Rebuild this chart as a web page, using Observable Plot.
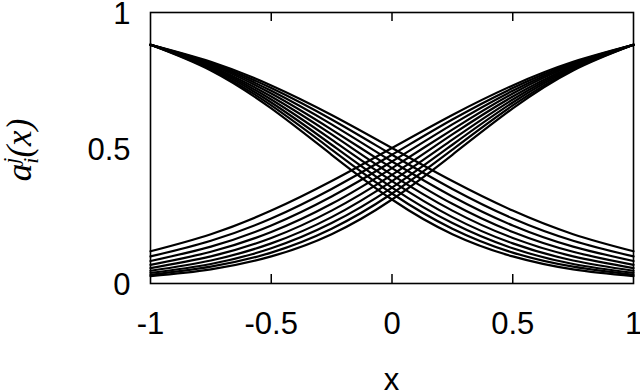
<!DOCTYPE html>
<html>
<head>
<meta charset="utf-8">
<script src="https://cdn.jsdelivr.net/npm/d3@7"></script>
<script src="https://cdn.jsdelivr.net/npm/@observablehq/plot@0.6"></script>
<style>
  html, body { margin: 0; padding: 0; background: #fff; }
  svg { display: block; }
</style>
</head>
<body>
<div id="chart"></div>
<script>
// sample x positions
const xs = [-1, -0.75, -0.5, -0.25, 0, 0.25, 0.5, 0.75, 1];
// decreasing family (values at xs)
const dec1 = [0.881, 0.818, 0.731, 0.622, 0.500, 0.378, 0.269, 0.182, 0.119];
const dec2 = [0.881, 0.814, 0.721, 0.605, 0.475, 0.349, 0.240, 0.158, 0.100];
const dec3 = [0.881, 0.810, 0.711, 0.587, 0.450, 0.321, 0.214, 0.136, 0.083];
const dec4 = [0.881, 0.806, 0.701, 0.568, 0.426, 0.294, 0.190, 0.117, 0.069];
const dec5 = [0.881, 0.802, 0.690, 0.550, 0.401, 0.269, 0.168, 0.100, 0.057];
const dec6 = [0.881, 0.798, 0.679, 0.531, 0.378, 0.245, 0.148, 0.085, 0.047];
const dec7 = [0.881, 0.794, 0.668, 0.512, 0.354, 0.223, 0.130, 0.072, 0.039];
const dec8 = [0.881, 0.790, 0.657, 0.494, 0.332, 0.202, 0.114, 0.062, 0.032];
const dec9 = [0.881, 0.786, 0.646, 0.475, 0.310, 0.182, 0.100, 0.052, 0.027];
const decFamily = [dec1, dec2, dec3, dec4, dec5, dec6, dec7, dec8, dec9];
const xTicks = [-1, -0.5, 0, 0.5, 1];
const yTicks = [0, 0.5, 1];
const innerTicks = [-0.5, 0, 0.5];

// build rows: decreasing curves, and the increasing mirror family
const rows = [];
decFamily.forEach((ys, i) => {
  xs.forEach((x, k) => rows.push({series: "d" + i, x, y: ys[k]}));
  xs.forEach((x, k) => rows.push({series: "u" + i, x: -x, y: ys[k]}));
});

const W = 640, H = 391, mL = 150, mR = 7, mT = 12, mB = 108;
const innerH = H - mT - mB;

const chart = Plot.plot({
  width: W,
  height: H,
  marginLeft: mL,
  marginRight: mR,
  marginTop: mT,
  marginBottom: mB,
  style: {fontFamily: "'Liberation Sans', Arial, sans-serif", fontSize: "31px", color: "#000", background: "#fff"},
  x: {domain: [-1, 1]},
  y: {domain: [0, 1]},
  marks: [
    Plot.line(rows, {x: "x", y: "y", z: "series", curve: "natural", stroke: "#000", strokeWidth: 2.2}),
    Plot.tickX(innerTicks, {x: d => d, insetBottom: innerH - 9, stroke: "#000", strokeWidth: 1.5}),
    Plot.tickX(innerTicks, {x: d => d, insetTop: innerH - 9, stroke: "#000", strokeWidth: 1.5}),
    Plot.frame({stroke: "#000", strokeWidth: 1.6}),
    Plot.axisX(xTicks, {tickSize: 0, tickPadding: 28, tickFormat: d => String(d), fontSize: 31, label: null}),
    Plot.axisY(yTicks, {tickSize: 0, tickPadding: 20, dy: 2, tickFormat: d => String(d), fontSize: 31, label: null})
  ]
});

document.getElementById("chart").appendChild(chart);

const svg = d3.select(chart);
// x axis label
svg.append("text")
  .attr("x", (mL + (W - mR)) / 2)
  .attr("y", 390)
  .attr("text-anchor", "middle")
  .style("font-family", "'Liberation Sans', Arial, sans-serif")
  .style("font-size", "31px")
  .attr("fill", "#000")
  .text("x");

// y axis label: a_i^j(x)
const yl = svg.append("text")
  .attr("transform", "translate(31,150) rotate(-90)")
  .attr("text-anchor", "middle")
  .style("font-family", "'Liberation Serif', 'Times New Roman', serif")
  .style("font-style", "italic")
  .style("font-size", "35px")
  .attr("fill", "#000");
yl.append("tspan").text("a");
yl.append("tspan").attr("dy", -13).style("font-size", "22px").text("j");
yl.append("tspan").attr("dx", -6).attr("dy", 20).style("font-size", "22px").text("i");
yl.append("tspan").attr("dy", -7).text("(x)");
</script>
</body>
</html>
